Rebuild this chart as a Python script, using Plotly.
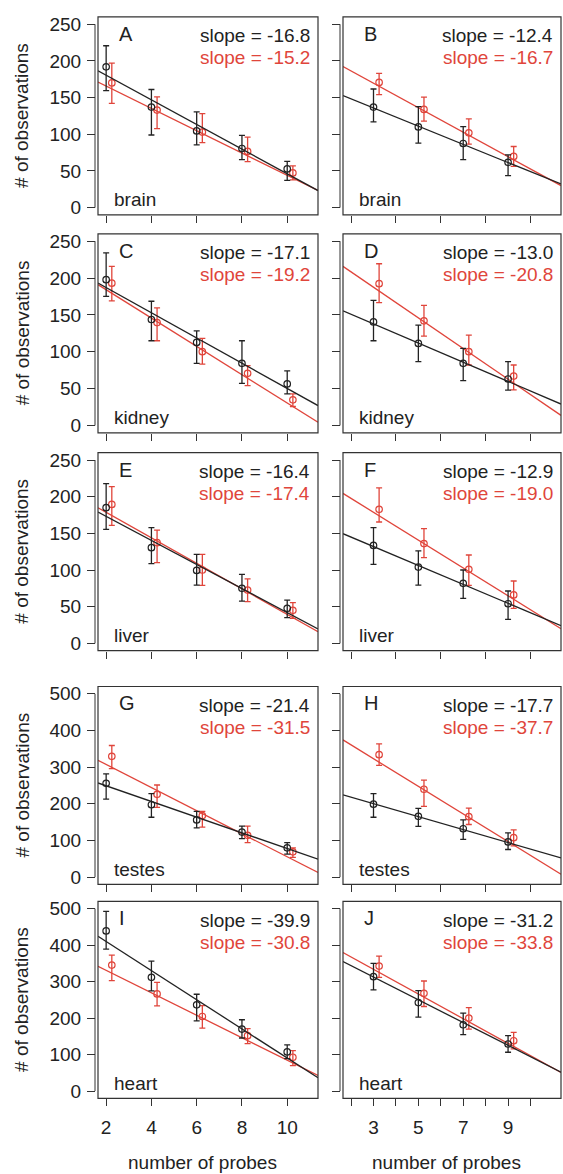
import plotly.graph_objects as go

# ---------------- data ----------------
panel_letters = ["A", "B", "C", "D", "E", "F", "G", "H", "I", "J"]
tissues = ["brain", "brain", "kidney", "kidney", "liver", "liver", "testes", "testes", "heart", "heart"]

probes_left = [2, 4, 6, 8, 10]
probes_right = [3, 5, 7, 9]

# series values (mean, upper, lower)
A_black = [192, 137, 104.5, 80.6, 52.7]
A_black_hi = [220.7, 161, 130.6, 98.6, 63]
A_black_lo = [159.5, 99, 85.6, 65.3, 37]
A_red = [170, 133, 103, 76.6, 47.3]
A_red_hi = [197, 151, 128, 96, 57]
A_red_lo = [142, 107.6, 88.7, 62.6, 37.8]

B_black = [137, 110, 87.4, 61.7]
B_black_hi = [161.7, 137.8, 110.4, 72]
B_black_lo = [117, 87.8, 65.3, 43.7]
B_red = [170.7, 133.8, 102, 69.8]
B_red_hi = [183, 150.5, 121, 83.3]
B_red_lo = [154, 118, 86.5, 56.3]

C_black = [197.7, 143.7, 112.6, 84.2, 56.3]
C_black_hi = [234, 168.5, 128.4, 114.9, 73.9]
C_black_lo = [175, 114.9, 84.2, 57, 42.8]
C_red = [193, 139.6, 100, 70.7, 34.7]
C_red_hi = [215.8, 159.5, 118, 81, 42.8]
C_red_lo = [169, 114.9, 83.3, 54, 25.7]

D_black = [140.5, 111.3, 84.2, 63]
D_black_hi = [169.8, 136, 104.5, 86.5]
D_black_lo = [114.9, 86.5, 60.8, 48]
D_red = [192.3, 141.9, 100, 67]
D_red_hi = [219.4, 163, 122.5, 82]
D_red_lo = [166.7, 121.2, 82, 48.2]

E_black = [185, 130.5, 99.5, 75, 47.7]
E_black_hi = [217.7, 157.7, 121.4, 94, 59]
E_black_lo = [155.5, 108.6, 79.5, 57.7, 35]
E_red = [189.5, 137.3, 100, 72.7, 45]
E_red_hi = [213.6, 154.5, 121.4, 88, 55.5]
E_red_lo = [161, 110, 79, 57, 34]

F_black = [133.6, 104, 81.8, 54]
F_black_hi = [157.7, 126, 100, 71.4]
F_black_lo = [107.7, 79.5, 61.4, 32.7]
F_red = [182.7, 136, 101, 66]
F_red_hi = [212, 156.4, 120.5, 85]
F_red_lo = [165.5, 116.8, 79, 47.7]

G_black = [255.8, 197.5, 156, 123, 80]
G_black_hi = [281.8, 228, 179.5, 139, 94]
G_black_lo = [212.7, 163.4, 134.6, 105, 62.8]
G_red = [329.4, 226, 167.9, 114, 69]
G_red_hi = [359, 251.3, 179.5, 139, 80]
G_red_lo = [296, 190.3, 136.4, 94, 53.8]

H_black = [199, 166, 132, 96]
H_black_hi = [228, 187.6, 156.2, 121]
H_black_lo = [163.4, 138.2, 103.2, 75.4]
H_red = [334, 239.7, 165, 107.7]
H_red_hi = [363.5, 264.8, 188.5, 129]
H_red_lo = [305, 193, 143.6, 85.3]

I_black = [439, 311.8, 236.4, 170, 107.3]
I_black_hi = [492.7, 356.4, 265.5, 195.5, 126.4]
I_black_lo = [389, 274.5, 192.7, 145.5, 89]
I_red = [345.5, 266.4, 204.5, 151.8, 92.7]
I_red_hi = [372.7, 298, 234.5, 171, 111]
I_red_lo = [302.7, 233.6, 172.7, 130, 70]

J_black = [313.6, 242.7, 181.8, 129]
J_black_hi = [350, 275.5, 213.6, 151.8]
J_black_lo = [277.3, 202.7, 154.5, 106.4]
J_red = [342.7, 268, 200, 138]
J_red_hi = [370, 301.8, 229, 161]
J_red_lo = [311.8, 231.8, 170, 115.5]

# fitted lines (slope, intercept)
slope_black = [-16.8, -12.4, -17.1, -13.0, -16.4, -12.9, -21.4, -17.7, -39.9, -31.2]
slope_red = [-15.2, -16.7, -19.2, -20.8, -17.4, -19.0, -31.5, -37.7, -30.8, -33.8]
intercept_black = [214, 173, 221.2, 176.7, 206, 170.7, 292, 253.4, 489.7, 406.2]
intercept_red = [196, 219.7, 222.5, 249.9, 213.5, 235.7, 370.4, 436.1, 392.6, 435]

y_ticks_small = [0, 50, 100, 150, 200, 250]
y_ticks_large = [0, 100, 200, 300, 400, 500]

# ---------------- style / layout ----------------
W, H = 563, 1174
FONT = "Liberation Sans, Arial, sans-serif"
FS = 19
BLACK = "#222222"
RED = "#e0453b"
AXC = "#333333"
DODGE = 0.25
XR = [1.64, 11.36]

col_lr = [(98, 318), (343, 561)]
row_tb = [(14, 213), (232, 432), (452, 651), (687, 886), (903, 1101)]

series = {
    "A": (A_black, A_black_hi, A_black_lo, A_red, A_red_hi, A_red_lo),
    "B": (B_black, B_black_hi, B_black_lo, B_red, B_red_hi, B_red_lo),
    "C": (C_black, C_black_hi, C_black_lo, C_red, C_red_hi, C_red_lo),
    "D": (D_black, D_black_hi, D_black_lo, D_red, D_red_hi, D_red_lo),
    "E": (E_black, E_black_hi, E_black_lo, E_red, E_red_hi, E_red_lo),
    "F": (F_black, F_black_hi, F_black_lo, F_red, F_red_hi, F_red_lo),
    "G": (G_black, G_black_hi, G_black_lo, G_red, G_red_hi, G_red_lo),
    "H": (H_black, H_black_hi, H_black_lo, H_red, H_red_hi, H_red_lo),
    "I": (I_black, I_black_hi, I_black_lo, I_red, I_red_hi, I_red_lo),
    "J": (J_black, J_black_hi, J_black_lo, J_red, J_red_hi, J_red_lo),
}


def px(x):
    return x / W


def py(y):
    return 1 - y / H


fig = go.Figure()
shapes = []
annotations = []
layout_axes = {}

for k, letter in enumerate(panel_letters):
    r, c = divmod(k, 2)
    L, R = col_lr[c]
    T, B = row_tb[r]
    xa = "x" if k == 0 else f"x{k+1}"
    ya = "y" if k == 0 else f"y{k+1}"
    xkey = "xaxis" if k == 0 else f"xaxis{k+1}"
    ykey = "yaxis" if k == 0 else f"yaxis{k+1}"

    xs = probes_left if c == 0 else probes_right
    bm, bh, bl, rm, rh, rl = series[letter]
    large = r >= 3
    yt = y_ticks_large if large else y_ticks_small
    ymax = yt[-1]
    pad = 0.04 * ymax

    # red series
    xr = [x + DODGE for x in xs]
    fig.add_trace(go.Scatter(
        x=xr, y=rm, mode="markers", xaxis=xa, yaxis=ya,
        marker=dict(symbol="circle-open", size=6.5, color=RED, line=dict(width=1.2, color=RED)),
        error_y=dict(type="data", symmetric=False,
                     array=[h - m for h, m in zip(rh, rm)],
                     arrayminus=[m - l for m, l in zip(rm, rl)],
                     color=RED, thickness=1.3, width=3),
        hoverinfo="skip"))
    fig.add_trace(go.Scatter(
        x=XR, y=[intercept_red[k] + slope_red[k] * x for x in XR],
        mode="lines", xaxis=xa, yaxis=ya, line=dict(color=RED, width=1.3), hoverinfo="skip"))
    # black series
    fig.add_trace(go.Scatter(
        x=xs, y=bm, mode="markers", xaxis=xa, yaxis=ya,
        marker=dict(symbol="circle-open", size=6.5, color=BLACK, line=dict(width=1.2, color=BLACK)),
        error_y=dict(type="data", symmetric=False,
                     array=[h - m for h, m in zip(bh, bm)],
                     arrayminus=[m - l for m, l in zip(bm, bl)],
                     color=BLACK, thickness=1.3, width=3),
        hoverinfo="skip"))
    fig.add_trace(go.Scatter(
        x=XR, y=[intercept_black[k] + slope_black[k] * x for x in XR],
        mode="lines", xaxis=xa, yaxis=ya, line=dict(color=BLACK, width=1.3), hoverinfo="skip"))

    # x axis ticks
    if r == 4 and c == 0:
        tv, tt = probes_left, [str(v) for v in probes_left]
    elif r == 4 and c == 1:
        tv = list(range(2, 11))
        tt = [str(v) if v in probes_right else "" for v in tv]
    else:
        tv, tt = [2, 4, 6, 8, 10], ["" for _ in range(5)]

    layout_axes[xkey] = dict(
        domain=[px(L), px(R)], range=XR, anchor=ya,
        ticks="outside", ticklen=7, tickwidth=1, tickcolor=AXC,
        tickvals=tv, ticktext=tt, showticklabels=(r == 4),
        showgrid=False, zeroline=False, showline=False,
        tickfont=dict(family=FONT, size=FS, color=BLACK), ticklabelstandoff=5,
    )
    layout_axes[ykey] = dict(
        domain=[py(B), py(T)], range=[-pad, ymax + pad], anchor="free",
        position=px(L - 3),
        ticks="outside", ticklen=8, tickwidth=1, tickcolor=AXC,
        tickvals=yt, showticklabels=(c == 0),
        showgrid=False, zeroline=False, showline=False,
        tickfont=dict(family=FONT, size=FS, color=BLACK), ticklabelstandoff=2,
    )

    # box
    shapes.append(dict(type="rect", xref="paper", yref="paper",
                       x0=px(L), x1=px(R), y0=py(B), y1=py(T),
                       line=dict(color=AXC, width=1.2), fillcolor="rgba(0,0,0,0)", layer="above"))
    # y axis line (spans the tick range only)
    shapes.append(dict(type="line", xref="paper", yref=ya,
                       x0=px(L - 3), x1=px(L - 3), y0=0, y1=ymax,
                       line=dict(color=AXC, width=1)))

    # annotations
    annotations.append(dict(text=letter, xref="paper", yref="paper",
                            x=px(L + 19), y=py(T + 17), xanchor="left", yanchor="middle",
                            showarrow=False, font=dict(family=FONT, size=FS + 1, color=BLACK)))
    annotations.append(dict(text=f"slope = {slope_black[k]:.1f}", xref="paper", yref="paper",
                            x=px(R - 6), y=py(T + 19), xanchor="right", yanchor="middle",
                            showarrow=False, font=dict(family=FONT, size=FS, color=BLACK)))
    annotations.append(dict(text=f"slope = {slope_red[k]:.1f}", xref="paper", yref="paper",
                            x=px(R - 6), y=py(T + 41), xanchor="right", yanchor="middle",
                            showarrow=False, font=dict(family=FONT, size=FS, color=RED)))
    annotations.append(dict(text=tissues[k], xref="paper", yref="paper",
                            x=px(L + 14), y=py(B - 15), xanchor="left", yanchor="middle",
                            showarrow=False, font=dict(family=FONT, size=FS, color=BLACK)))

    if c == 0:
        annotations.append(dict(text="# of observations", xref="paper", yref="paper",
                                x=px(22), y=py((T + B) / 2), xanchor="center", yanchor="middle",
                                textangle=-90, showarrow=False,
                                font=dict(family=FONT, size=FS, color=BLACK)))
    if r == 4:
        annotations.append(dict(text="number of probes", xref="paper", yref="paper",
                                x=px((L + R) / 2 - 6), y=py(1165), xanchor="center", yanchor="middle",
                                showarrow=False, font=dict(family=FONT, size=FS, color=BLACK)))

fig.update_layout(
    width=W, height=H,
    margin=dict(l=0, r=0, t=0, b=0),
    paper_bgcolor="white", plot_bgcolor="white",
    showlegend=False,
    shapes=shapes, annotations=annotations,
    **layout_axes,
)

fig.write_html(
    "out.html",
    config={"displayModeBar": False},
    post_script="document.body.style.margin='0';document.body.style.overflow='hidden';",
)
